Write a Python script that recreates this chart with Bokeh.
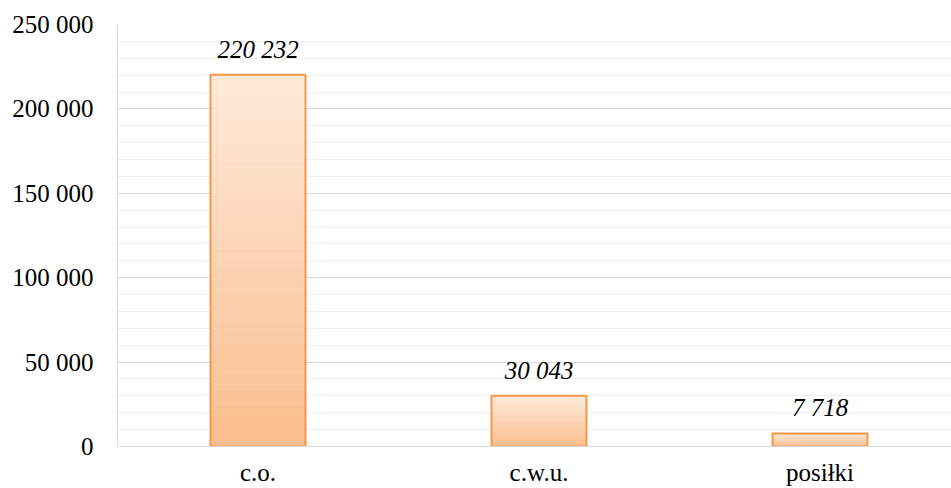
import numpy as np
from bokeh.plotting import figure
from bokeh.models import Range1d, FixedTicker, ColumnDataSource, LabelSet
from bokeh.embed import file_html
from bokeh.resources import INLINE

# ---- data ----
categories = ["c.o.", "c.w.u.", "posiłki"]
values = [220232, 30043, 7718]
y_ticks = [0, 50000, 100000, 150000, 200000, 250000]
y_tick_labels = ["0", "50 000", "100 000", "150 000", "200 000", "250 000"]
y_minor_ticks = [i * 10000 for i in range(26)]

FONT = "Liberation Serif"
FSIZE = "25px"
ORANGE = "#F79646"
TOP_RGB = np.array([254, 234, 218])
BOT_RGB = np.array([251, 190, 141])

centers = [i + 0.5 for i in range(len(categories))]
bar_w = 0.338

W, H = 951, 488
LEFT, TOP, BOTTOM = 117, 24, 42
p = figure(width=W, height=H, output_backend="svg", toolbar_location=None,
           x_range=Range1d(0, (W - LEFT) / 281), y_range=Range1d(0, 250000),
           min_border_left=LEFT, min_border_top=TOP, min_border_bottom=BOTTOM,
           min_border_right=0)
p.outline_line_color = None
p.background_fill_color = "white"
p.border_fill_color = "white"

# gradient-filled bars (thin horizontal strips per bar)
N = 60
gl, gr, gb, gt, gc = [], [], [], [], []
for c, v in zip(centers, values):
    for k in range(N):
        t = (k + 0.5) / N
        rgb = (BOT_RGB + (TOP_RGB - BOT_RGB) * t).round().astype(int)
        col = "#%02x%02x%02x" % tuple(rgb)
        gl.append(c - bar_w / 2)
        gr.append(c + bar_w / 2)
        gb.append(v * k / N)
        gt.append(v * (k + 1) / N)
        gc.append(col)
p.quad(left=gl, right=gr, bottom=gb, top=gt, fill_color=gc, line_color=gc, line_width=0.6)

src = ColumnDataSource(dict(x=centers, top=values, cat=categories,
                            lab=[f"{v:,}".replace(",", " ") for v in values]))
p.vbar(x="x", top="top", width=bar_w, source=src, fill_color=None,
       line_color=ORANGE, line_width=2)

labels = LabelSet(x="x", y="top", text="lab", source=src, y_offset=17,
                  text_align="center", text_baseline="alphabetic",
                  text_font=FONT, text_font_size=FSIZE, text_font_style="italic",
                  text_color="black")
p.add_layout(labels)

# axes
yt = FixedTicker(ticks=y_ticks, minor_ticks=y_minor_ticks)
p.yaxis.ticker = yt
p.yaxis.major_label_overrides = {t: l for t, l in zip(y_ticks, y_tick_labels)}
p.yaxis.major_label_text_font = FONT
p.yaxis.major_label_text_font_size = FSIZE
p.yaxis.major_label_text_color = "black"
p.yaxis.major_label_standoff = 18
p.yaxis.axis_line_color = "#D9D9D9"
p.yaxis.major_tick_line_color = None
p.yaxis.minor_tick_line_color = None

p.xaxis.ticker = FixedTicker(ticks=centers)
p.xaxis.major_label_overrides = {c: n for c, n in zip(centers, categories)}
p.xaxis.major_label_text_font = FONT
p.xaxis.major_label_text_font_size = FSIZE
p.xaxis.major_label_text_color = "black"
p.xaxis.major_label_standoff = 6
p.xaxis.axis_line_color = "#D9D9D9"
p.xaxis.major_tick_line_color = None
p.xaxis.minor_tick_line_color = None

p.xgrid.grid_line_color = None
p.ygrid.ticker = yt
p.ygrid.grid_line_color = "#D9D9D9"
p.ygrid.minor_grid_line_color = "#EFEFEF"

open("out.html", "w").write(file_html(p, INLINE))
